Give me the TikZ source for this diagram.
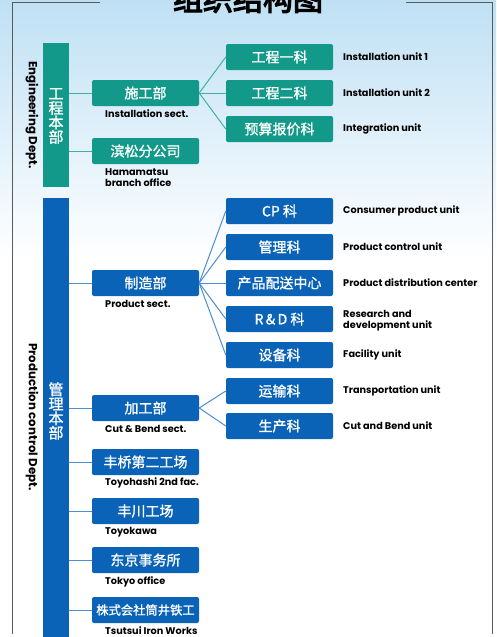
\documentclass[tikz,border=0pt]{standalone}
\usepackage{fontspec}
\setmainfont{Poppins}
\newfontfamily\cjk[FakeBold=1.2]{Noto Sans CJK SC}
\newfontfamily\cjktitle[FakeBold=4]{Noto Sans CJK SC}
\definecolor{teal1}{HTML}{13998A}
\definecolor{teal2}{HTML}{3FB0A2}
\definecolor{blue1}{HTML}{0A63B6}
\definecolor{blue2}{HTML}{4A8ED3}
\definecolor{sky}{HTML}{BFE0F4}
\definecolor{framegray}{HTML}{5A5A5A}
\tikzset{
  boxbase/.style={rounded corners=2pt, minimum width=107pt, minimum height=26pt, inner sep=0pt, text=white, font=\cjk\fontsize{14}{14}\selectfont},
  tbox/.style={boxbase, fill=teal1},
  bbox/.style={boxbase, fill=blue1},
  tline/.style={draw=teal2, line width=1pt},
  bline/.style={draw=blue2, line width=1pt},
  lab/.style={anchor=west, inner sep=0pt, font=\bfseries\fontsize{9.7}{11}\selectfont, align=left, text=black},
  vlab/.style={rotate=-90, inner sep=0pt, font=\bfseries\fontsize{11.8}{13}\selectfont, text=black},
  vcjk/.style={inner sep=0pt, text=white, align=center, font=\cjk\fontsize{15}{14.5}\selectfont},
}
\begin{document}
\begin{tikzpicture}[x=1pt,y=-1pt]
\useasboundingbox (0,0) rectangle (496,637);
\clip (0,0) rectangle (496,637);
% background
\fill[white] (0,0) rectangle (496,637);
\shade[top color=sky, bottom color=white] (0,0) rectangle (496,260);
% frame
\draw[framegray, line width=1pt] (100,2) -- (12,2) -- (12,634);
\draw[framegray, line width=1pt] (406,2) -- (492,2) -- (492,634);
% title
\node[inner sep=0pt, font=\cjktitle\fontsize{30}{30}\selectfont] (title) at (248,-1) {组织结构图};

% ===== Engineering =====
\node[fill=teal1, minimum width=26pt, minimum height=144pt, inner sep=0pt] (engbar) at (56,115) {};
\node[vcjk] (engtxt) at (56,116) {工\\程\\本\\部};
\node[vlab] (engdept) at (32,115) {Engineering Dept.};

\node[tbox] (shigong) at (145.5,93) {施工部};
\node[tbox] (hamamatsu) at (145.5,151) {滨松分公司};
\node[lab] (lshigong) at (105,114) {Installation sect.};
\node[lab] (lhama) at (105,177.5) {Hamamatsu\\branch office};

\node[tbox] (gc1) at (279.5,57) {工程一科};
\node[tbox] (gc2) at (279.5,93) {工程二科};
\node[tbox] (ys) at (279.5,129) {预算报价科};
\node[lab] (lgc1) at (343,57) {Installation unit 1};
\node[lab] (lgc2) at (343,93) {Installation unit 2};
\node[lab] (lys) at (343,129) {Integration unit};

\draw[tline] (engbar.east |- shigong.west) -- (shigong.west);
\draw[tline] (engbar.east |- hamamatsu.west) -- (hamamatsu.west);
\foreach \t in {gc1,gc2,ys} \draw[tline] (shigong.east) -- (\t.west);

% ===== Production =====
\node[fill=blue1, minimum width=26pt, minimum height=445pt, inner sep=0pt] (prodbar) at (56,420.5) {};
\node[vcjk] (prodtxt) at (56,411) {管\\理\\本\\部};
\node[vlab] (proddept) at (32,417) {Production control Dept.};

\node[bbox] (zhizao) at (145.5,283) {制造部};
\node[bbox] (jiagong) at (145.5,408) {加工部};
\node[bbox] (fq) at (145.5,462) {丰桥第二工场};
\node[bbox] (fc) at (145.5,511) {丰川工场};
\node[bbox] (dj) at (145.5,560) {东京事务所};
\node[bbox, font=\cjk\fontsize{12.3}{12.3}\selectfont] (zs) at (145.5,610) {株式会社筒井铁工};
\node[lab] (lzhizao) at (105,304) {Product sect.};
\node[lab] (ljiagong) at (105,429) {Cut \& Bend sect.};
\node[lab] (lfq) at (105,483) {Toyohashi 2nd fac.};
\node[lab] (lfc) at (105,532) {Toyokawa};
\node[lab] (ldj) at (105,581.5) {Tokyo office};
\node[lab] (lzs) at (105,631) {Tsutsui Iron Works};

\node[bbox] (cp) at (279.5,211) {CP 科};
\node[bbox] (gl) at (279.5,247) {管理科};
\node[bbox] (cp2) at (279.5,283) {产品配送中心};
\node[bbox] (rd) at (279.5,319) {R\,\&\,D 科};
\node[bbox] (sb) at (279.5,355) {设备科};
\node[bbox] (ys2) at (279.5,391) {运输科};
\node[bbox] (sc) at (279.5,426) {生产科};
\node[lab] (lcp) at (343,211) {Consumer product unit};
\node[lab] (lgl) at (343,247) {Product control unit};
\node[lab] (lcp2) at (343,283) {Product distribution center};
\node[lab] (lrd) at (343,320.5) {Research and\\development unit};
\node[lab] (lsb) at (343,355) {Facility unit};
\node[lab] (lys2) at (343,391) {Transportation unit};
\node[lab] (lsc) at (343,426) {Cut and Bend unit};

\foreach \b in {zhizao,jiagong,fq,fc,dj,zs} \draw[bline] (prodbar.east |- \b.west) -- (\b.west);
\foreach \t in {cp,gl,cp2,rd,sb} \draw[bline] (zhizao.east) -- (\t.west);
\foreach \t in {ys2,sc} \draw[bline] (jiagong.east) -- (\t.west);
\end{tikzpicture}
\end{document}
